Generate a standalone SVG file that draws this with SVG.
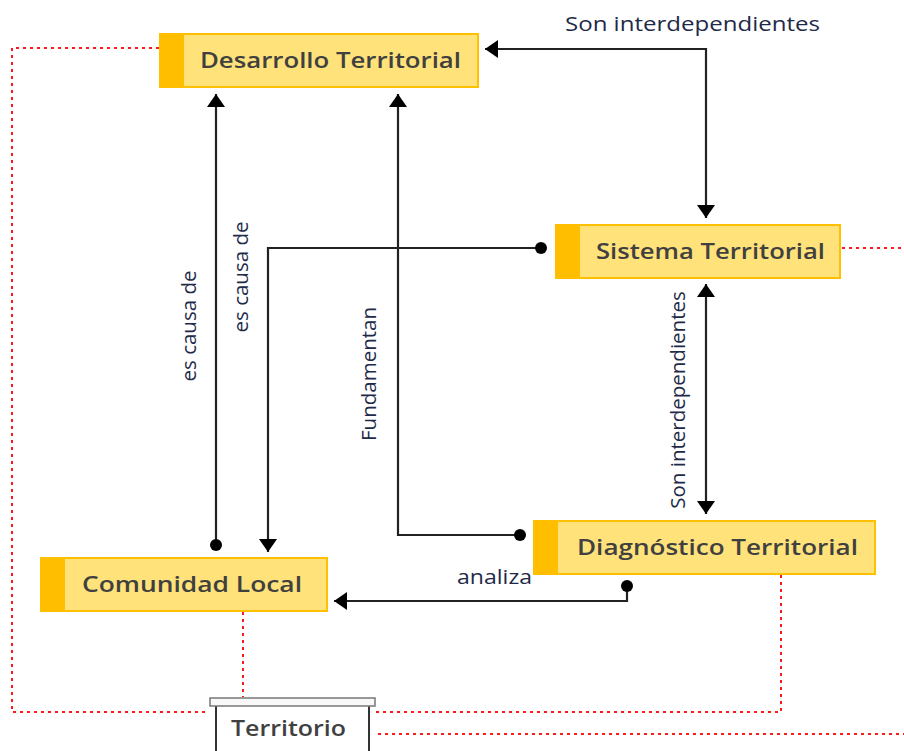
<svg xmlns="http://www.w3.org/2000/svg" width="904" height="751" viewBox="0 0 904 751">
<defs>
<style>
.node rect.body{fill:#FFE27A;stroke:#FFC000;stroke-width:2}
.node rect.stripe{fill:#FFBF00}
.node text{font-family:"Open Sans","Liberation Sans",sans-serif;font-weight:600;font-size:21px;fill:#404040;text-anchor:middle;dominant-baseline:central}
.conn{fill:none;stroke:#222;stroke-width:2.2}
.dot{fill:none;stroke:#ff1a1a;stroke-width:2;stroke-dasharray:3 4}
.lbl{font-family:"Open Sans","Liberation Sans",sans-serif;font-size:20.5px;fill:#1e2a48;text-anchor:middle;dominant-baseline:central}
</style>
<marker id="arr" viewBox="0 0 13 18" refX="13" refY="9" markerWidth="13" markerHeight="18" markerUnits="userSpaceOnUse" orient="auto-start-reverse">
<path d="M0,0 L13,9 L0,18 Z" fill="#000"/>
</marker>
<marker id="ball" viewBox="0 0 12 12" refX="6" refY="6" markerWidth="12" markerHeight="12" markerUnits="userSpaceOnUse">
<circle cx="6" cy="6" r="6" fill="#000"/>
</marker>
</defs>
<rect width="904" height="751" fill="#fff"/>

<g id="relations">
<path class="dot" d="M159,48 H12 V712 H209"/>
<path class="dot" d="M243,612 V697"/>
<path class="dot" d="M781,575 V712 H376"/>
<path class="dot" d="M842,248 H904"/>
<path class="dot" d="M378,734 H904"/>
</g>

<g id="connectors">
<path class="conn" d="M485,49 H706 V218" marker-start="url(#arr)" marker-end="url(#arr)"/>
<path class="conn" d="M216,545 V94" marker-start="url(#ball)" marker-end="url(#arr)"/>
<path class="conn" d="M541,248 H268 V552" marker-start="url(#ball)" marker-end="url(#arr)"/>
<path class="conn" d="M520,535 H398 V94" marker-start="url(#ball)" marker-end="url(#arr)"/>
<path class="conn" d="M706,284 V514" marker-start="url(#arr)" marker-end="url(#arr)"/>
<path class="conn" d="M627,586 V601 H334" marker-start="url(#ball)" marker-end="url(#arr)"/>
<text class="lbl" x="692.5" y="23" textLength="255" lengthAdjust="spacingAndGlyphs">Son interdependientes</text>
<text class="lbl" transform="translate(188,326) rotate(-90)">es causa de</text>
<text class="lbl" transform="translate(240,277) rotate(-90)">es causa de</text>
<text class="lbl" transform="translate(368,374) rotate(-90)">Fundamentan</text>
<text class="lbl" transform="translate(677,400) rotate(-90)">Son interdependientes</text>
<text class="lbl" x="494.5" y="576" textLength="75" lengthAdjust="spacingAndGlyphs">analiza</text>
</g>

<g id="desarrollo" class="node">
<rect class="body" x="160" y="34" width="318" height="53"/>
<rect class="stripe" x="160" y="34" width="24" height="53"/>
<text x="330.5" y="60" textLength="261" lengthAdjust="spacingAndGlyphs">Desarrollo Territorial</text>
</g>
<g id="sistema" class="node">
<rect class="body" x="556" y="225" width="284" height="53"/>
<rect class="stripe" x="556" y="225" width="24" height="53"/>
<text x="710.5" y="251" textLength="229" lengthAdjust="spacingAndGlyphs">Sistema Territorial</text>
</g>
<g id="diagnostico" class="node">
<rect class="body" x="534" y="521" width="341" height="53"/>
<rect class="stripe" x="534" y="521" width="24" height="53"/>
<text x="717.5" y="547" textLength="281" lengthAdjust="spacingAndGlyphs">Diagnóstico Territorial</text>
</g>
<g id="comunidad" class="node">
<rect class="body" x="41" y="558" width="286" height="53"/>
<rect class="stripe" x="41" y="558" width="24" height="53"/>
<text x="192" y="584" textLength="220" lengthAdjust="spacingAndGlyphs">Comunidad Local</text>
</g>
<g id="territorio" class="node">
<path d="M216,706 V752 Q216,760 224,760 H361 Q369,760 369,752 V706" fill="#fff" stroke="#333" stroke-width="2"/>
<rect x="210" y="698" width="165" height="8" fill="#f8f8f8" stroke="#777" stroke-width="1.5"/>
<text x="288.5" y="728" textLength="115" lengthAdjust="spacingAndGlyphs">Territorio</text>
</g>
</svg>
